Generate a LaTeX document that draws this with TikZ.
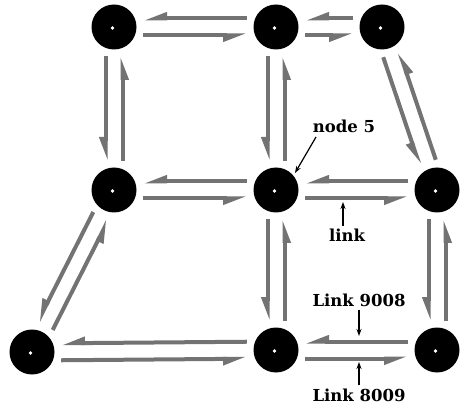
\documentclass[tikz,border=0pt]{standalone}
\usepackage{fontspec}
\setmainfont{DejaVu Serif}
\usetikzlibrary{arrows.meta,calc}
\tikzset{
  hub/.style={circle, fill=black, minimum size=45pt, inner sep=0pt,
    path picture={\fill[white] ($(path picture bounding box.center)+(-1.5pt,-1pt)$) circle (1.8pt);}},
  lane/.style={draw=black!55, line width=4pt,
    -{Triangle[harpoon,swap,length=18pt,width=12pt]}},
  tag/.style={font=\bfseries\fontsize{16.5}{16.5}\selectfont, inner sep=0pt},
  pointer/.style={line width=1.2pt, -{Stealth[length=7pt,width=5pt]}},
}
% two one-way lanes between hubs #1 and #2, each kept to its right
\newcommand\lanepair[2]{%
  \draw[lane] ($(#1)!29pt!(#2)!8.5pt!-90:(#2)$) -- ($(#2)!29pt!(#1)!8.5pt!90:(#1)$);
  \draw[lane] ($(#2)!29pt!(#1)!8.5pt!-90:(#1)$) -- ($(#1)!29pt!(#2)!8.5pt!90:(#2)$);}
\begin{document}
\begin{tikzpicture}[x=1pt, y=-1pt]
  \useasboundingbox (0,0) rectangle (461,409);
  % hubs
  \node[hub] (a) at (114,27) {};
  \node[hub] (b) at (276,27) {};
  \node[hub] (c) at (382,27) {};
  \node[hub] (d) at (114,190) {};
  \node[hub] (e) at (276,190) {};
  \node[hub] (f) at (437,190) {};
  \node[hub] (g) at (32,352) {};
  \node[hub] (h) at (276,350) {};
  \node[hub] (i) at (437,350) {};
  % links
  \lanepair{a}{b}
  \lanepair{b}{c}
  \lanepair{a}{d}
  \lanepair{b}{e}
  \lanepair{c}{f}
  \lanepair{d}{e}
  \lanepair{e}{f}
  \lanepair{d}{g}
  \lanepair{e}{h}
  \lanepair{f}{i}
  \lanepair{g}{h}
  \lanepair{h}{i}
  % labels
  \node[tag] (t5) at (344,126) {node 5};
  \node[tag] (tl) at (347,235) {link};
  \node[tag] (t98) at (359,300) {Link 9008};
  \node[tag] (t89) at (359,395) {Link 8009};
  \coordinate (p5) at (295,173);
  \coordinate (pl) at (343,202);
  \coordinate (p98) at (359,336);
  \coordinate (p89) at (359,362);
  \draw[pointer] (316,137) -- (p5);
  \draw[pointer] (tl.north -| pl) ++(0,-3) -- (pl);
  \draw[pointer] (t98.south) ++(0,3) -- (p98);
  \draw[pointer] (t89.north) ++(0,-3) -- (p89);
\end{tikzpicture}
\end{document}
